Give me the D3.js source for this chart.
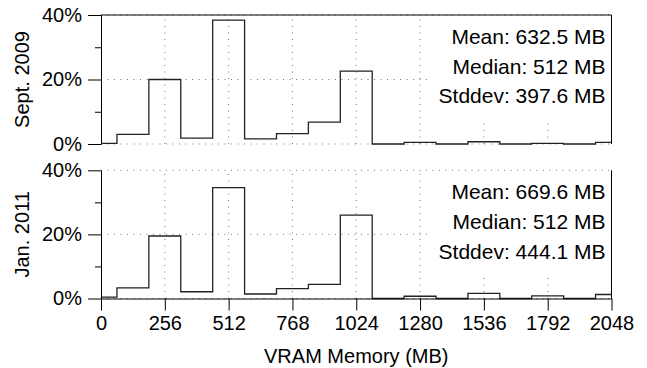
<!DOCTYPE html>
<html>
<head>
<meta charset="utf-8">
<script src="https://cdn.jsdelivr.net/npm/d3@7"></script>
<style>
  body { margin: 0; background: #fff; }
  svg text { font-family: "Liberation Sans", Arial, Helvetica, sans-serif; fill: #000; }
  .grid line { stroke: #777; stroke-width: 1; stroke-dasharray: 1,5.5; }
  .axis path, .axis line { stroke: #000; stroke-width: 1; }
  .hist { fill: none; stroke: #222; stroke-width: 1.3; }
</style>
</head>
<body>
<svg id="chart"></svg>
<script>
// bin centres (MB); first and last bins are half width
const binCenters = [0, 128, 256, 384, 512, 640, 768, 896, 1024, 1152, 1280, 1408, 1536, 1664, 1792, 1920, 2048];
// share of machines per bin (%)
const sept2009 = [0.2, 3.0, 20.0, 1.8, 38.4, 1.6, 3.2, 6.8, 22.6, 0, 0.5, 0, 0.7, 0, 0.2, 0, 0.5];
const jan2011  = [0.4, 3.3, 19.5, 2.1, 34.6, 1.4, 3.1, 4.4, 26.0, 0, 0.7, 0, 1.6, 0, 0.8, 0, 1.25];

const xTicks = [0, 256, 512, 768, 1024, 1280, 1536, 1792, 2048];
const yMajorTicks = [0, 20, 40];
const yMinorTicks = [10, 30];

const panelNames = ["Sept. 2009", "Jan. 2011"];
const statsSept2009 = ["Mean: 632.5 MB", "Median: 512 MB", "Stddev: 397.6 MB"];
const statsJan2011  = ["Mean: 669.6 MB", "Median: 512 MB", "Stddev: 444.1 MB"];

const width = 647, height = 368;
const fontSize = 20;

const svg = d3.select("#chart").attr("width", width).attr("height", height);

const xScale = d3.scaleLinear().domain([0, 2048]).range([101, 611.5]);

function drawPanel(values, stats, name, yRange, showX) {
  const yScale = d3.scaleLinear().domain([0, 40]).range(yRange);
  const g = svg.append("g");

  // dotted grid
  const grid = g.append("g").attr("class", "grid");
  grid.selectAll(".vgrid")
    .data(xTicks.slice(1, -1))
    .join("line")
    .attr("x1", d => xScale(d)).attr("x2", d => xScale(d))
    .attr("y1", yScale(0)).attr("y2", yScale(40));
  grid.selectAll(".hgrid")
    .data(yMajorTicks)
    .join("line")
    .attr("x1", xScale(0)).attr("x2", xScale(2048))
    .attr("y1", d => yScale(d)).attr("y2", d => yScale(d));

  // white box behind the stats
  g.append("rect")
    .attr("x", 428)
    .attr("y", yScale(40) + 1)
    .attr("width", xScale(2048) - 428 - 0.5)
    .attr("height", 105)
    .attr("fill", "#fff");

  // step outline of histogram
  const pts = [];
  binCenters.forEach((c, i) => {
    const x0 = Math.max(0, c - 64), x1 = Math.min(2048, c + 64);
    pts.push([x0, values[i]], [x1, values[i]]);
  });
  g.append("path")
    .datum(pts)
    .attr("class", "hist")
    .attr("d", d3.line().x(d => xScale(d[0])).y(d => yScale(d[1])));

  // left axis, major and minor ticks
  g.append("g")
    .attr("class", "axis")
    .attr("transform", `translate(${xScale(0)},0)`)
    .call(d3.axisLeft(yScale).tickValues(yMajorTicks).tickSize(13).tickSizeOuter(0)
      .tickPadding(6).tickFormat(d => d + "%"))
    .call(a => a.selectAll("text").style("font-size", fontSize + "px"));
  g.append("g")
    .attr("class", "axis")
    .attr("transform", `translate(${xScale(0)},0)`)
    .call(d3.axisLeft(yScale).tickValues(yMinorTicks).tickSize(6).tickSizeOuter(0).tickFormat(""));

  // right frame line
  g.append("line")
    .attr("x1", xScale(2048)).attr("x2", xScale(2048))
    .attr("y1", yScale(40)).attr("y2", yScale(0))
    .attr("stroke", "#000");

  if (showX) {
    g.append("g")
      .attr("class", "axis")
      .attr("transform", `translate(0,${yScale(0)})`)
      .call(d3.axisBottom(xScale).tickValues(xTicks).tickSize(12).tickSizeOuter(0)
        .tickPadding(5).tickFormat(d3.format("d")))
      .call(a => a.selectAll("text").style("font-size", fontSize + "px"));
  } else {
    // top frame line
    g.append("line")
      .attr("x1", xScale(0)).attr("x2", xScale(2048))
      .attr("y1", yScale(40)).attr("y2", yScale(40))
      .attr("stroke", "#000");
  }

  // panel title on the left
  g.append("text")
    .attr("transform", `translate(29,${(yScale(0) + yScale(40)) / 2}) rotate(-90)`)
    .attr("text-anchor", "middle")
    .style("font-size", fontSize + "px")
    .text(name);

  // summary stats
  g.selectAll(".stat")
    .data(stats)
    .join("text")
    .attr("x", 605.5)
    .attr("y", (d, i) => yScale(40) + 29 + i * 29.7)
    .attr("text-anchor", "end")
    .style("font-size", "21px")
    .text(d => d);
}

drawPanel(sept2009, statsSept2009, panelNames[0], [144, 15], false);
drawPanel(jan2011, statsJan2011, panelNames[1], [298.5, 170.3], true);

svg.append("text")
  .attr("x", (xScale(0) + xScale(2048)) / 2)
  .attr("y", 363)
  .attr("text-anchor", "middle")
  .style("font-size", fontSize + "px")
  .text("VRAM Memory (MB)");
</script>
</body>
</html>
